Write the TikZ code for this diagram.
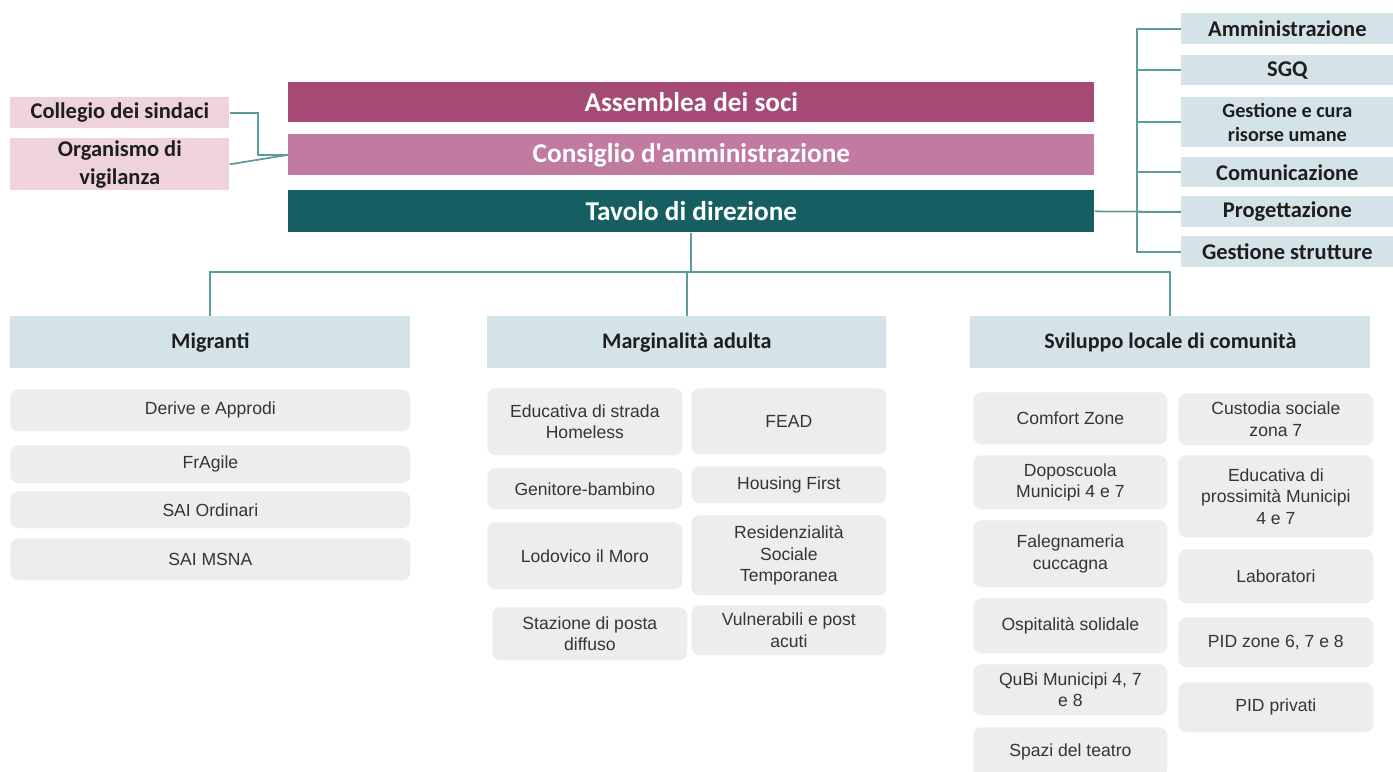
\documentclass[tikz,border=0pt]{standalone}
\usepackage{fontspec}
\setmainfont{Carlito}
\newfontfamily\calibriplain{Carlito}
\newfontfamily\arialfont{Liberation Sans}
\definecolor{soci}{HTML}{A54A74}
\definecolor{cda}{HTML}{C27BA0}
\definecolor{direz}{HTML}{155F63}
\definecolor{sidepink}{HTML}{EED3DE}
\definecolor{staffblue}{HTML}{D4E3E7}
\definecolor{projgrey}{HTML}{EDEDED}
\definecolor{linkteal}{HTML}{5E9C9C}
\definecolor{textdark}{HTML}{1E1E1E}
\begin{document}
\begin{tikzpicture}[x=0.02cm, y=-0.02cm,
    wh/.style 2 args={minimum width=#1*0.02cm, minimum height=#2*0.02cm},
    topbar/.style={anchor=north west, inner sep=0pt, text=white, font=\fontsize{15.5}{18}\selectfont\bfseries},
    sidebox/.style={anchor=north west, inner sep=0pt, fill=sidepink, text=textdark, align=center, font=\fontsize{12.8}{16}\selectfont\bfseries},
    staffbox/.style={anchor=north west, inner sep=0pt, fill=staffblue, text=textdark, align=center, font=\fontsize{12.8}{16}\selectfont\bfseries},
    areabox/.style={anchor=north west, inner sep=0pt, fill=staffblue, text=textdark, font=\fontsize{12.6}{15}\selectfont\bfseries},
    projbox/.style={anchor=north west, inner sep=0pt, fill=projgrey, rounded corners=0.16cm, text=textdark!90, align=center, font=\arialfont\fontsize{10}{12.2}\selectfont},
    link/.style={draw=linkteal, line width=1pt}]
    \useasboundingbox (0,0) rectangle (1393,771);
    \clip (0,0) rectangle (1393,771);
    % governance
    \node [topbar, fill=soci, wh={806}{40}] (soci) at (288,82) {Assemblea dei soci};
    \node [topbar, fill=cda, wh={806}{41}, font=\calibriplain\fontsize{15.5}{18}\selectfont\bfseries] (cda) at (288,134) {Consiglio d'amministrazione};
    \node [topbar, fill=direz, wh={806}{42}] (tavolo) at (288,190) {Tavolo di direzione};
    \node [sidebox, wh={219}{31}] (collegio) at (10,97) {Collegio dei sindaci};
    \node [sidebox, wh={219}{52}] (odv) at (10,138) {Organismo di\\vigilanza};
    % staff
    \node [staffbox, wh={212}{31}] (amm) at (1181,13) {Amministrazione};
    \node [staffbox, wh={212}{30}] (sgq) at (1181,55) {SGQ};
    \node [staffbox, wh={212}{50}, font=\fontsize{11.5}{14}\selectfont\bfseries] (hr) at (1181,97) {Gestione e cura\\risorse umane};
    \node [staffbox, wh={212}{30}] (com) at (1181,157) {Comunicazione};
    \node [staffbox, wh={212}{31}] (prog) at (1181,196) {Progettazione};
    \node [staffbox, wh={212}{31}] (strut) at (1181,236) {Gestione strutture};
    % aree
    \node [areabox, wh={400}{52}] (migr) at (10,316) {Migranti};
    \node [areabox, wh={399}{52}] (marg) at (487,316) {Marginalità adulta};
    \node [areabox, wh={400}{52}] (svil) at (970,316) {Sviluppo locale di comunità};
    % progetti migranti
    \node [projbox, wh={400}{42}] (derive) at (10,389) {Derive e Approdi};
    \node [projbox, wh={400}{38}] (fragile) at (10,445) {FrAgile};
    \node [projbox, wh={400}{37}] (saiord) at (10,491) {SAI Ordinari};
    \node [projbox, wh={400}{42}] (saimsna) at (10,538) {SAI MSNA};
    % progetti marginalita
    \node [projbox, wh={195}{67}] (strada) at (487,388) {Educativa di strada\\Homeless};
    \node [projbox, wh={195}{66}] (fead) at (691,388) {FEAD};
    \node [projbox, wh={195}{41}] (genit) at (487,468) {Genitore-bambino};
    \node [projbox, wh={195}{37}] (housing) at (691,466) {Housing First};
    \node [projbox, wh={195}{67}] (lodo) at (487,522) {Lodovico il Moro};
    \node [projbox, wh={195}{80}] (resid) at (691,515) {Residenzialità\\Sociale\\Temporanea};
    \node [projbox, wh={195}{53}] (posta) at (492,607) {Stazione di posta\\diffuso};
    \node [projbox, wh={195}{50}] (vulner) at (691,605) {Vulnerabili e post\\acuti};
    % progetti sviluppo locale
    \node [projbox, wh={194}{52}] (comfort) at (973,392) {Comfort Zone};
    \node [projbox, wh={194}{54}] (doposc) at (973,455) {Doposcuola\\Municipi 4 e 7};
    \node [projbox, wh={194}{67}] (faleg) at (973,520) {Falegnameria\\cuccagna};
    \node [projbox, wh={194}{55}] (ospit) at (973,598) {Ospitalità solidale};
    \node [projbox, wh={194}{51}] (qubi) at (973,664) {QuBi Municipi 4, 7\\e 8};
    \node [projbox, wh={194}{50}] (teatro) at (973,727) {Spazi del teatro};
    \node [projbox, wh={195}{52}] (custod) at (1178,393) {Custodia sociale\\zona 7};
    \node [projbox, wh={195}{82}] (prossim) at (1178,455) {Educativa di\\prossimità Municipi\\4 e 7};
    \node [projbox, wh={195}{54}] (labor) at (1178,549) {Laboratori};
    \node [projbox, wh={195}{50}] (pidzone) at (1178,617) {PID zone 6, 7 e 8};
    \node [projbox, wh={195}{50}] (pidpriv) at (1178,682) {PID privati};
    % connectors
    \coordinate (lbus) at (258,0);
    \coordinate (rbus) at (1137,0);
    \coordinate (hbus) at (0,272);
    \draw [link] (collegio.east) -- (collegio.east -| lbus) |- (cda.west);
    \draw [link] (odv.east) -- (cda.west);
    \draw [link] (tavolo.east) -- (prog.west);
    \draw [link] (amm.west) -- (amm.west -| rbus) |- (strut.west);
    \foreach \s in {sgq,hr,com,prog}
        \draw [link] (\s.west) -- (\s.west -| rbus);
    \draw [link] (tavolo.south) -- (tavolo.south |- hbus);
    \draw [link] (migr.north) -- (migr.north |- hbus) -- (svil.north |- hbus) -- (svil.north);
    \draw [link] (marg.north) -- (marg.north |- hbus);
\end{tikzpicture}
\end{document}
